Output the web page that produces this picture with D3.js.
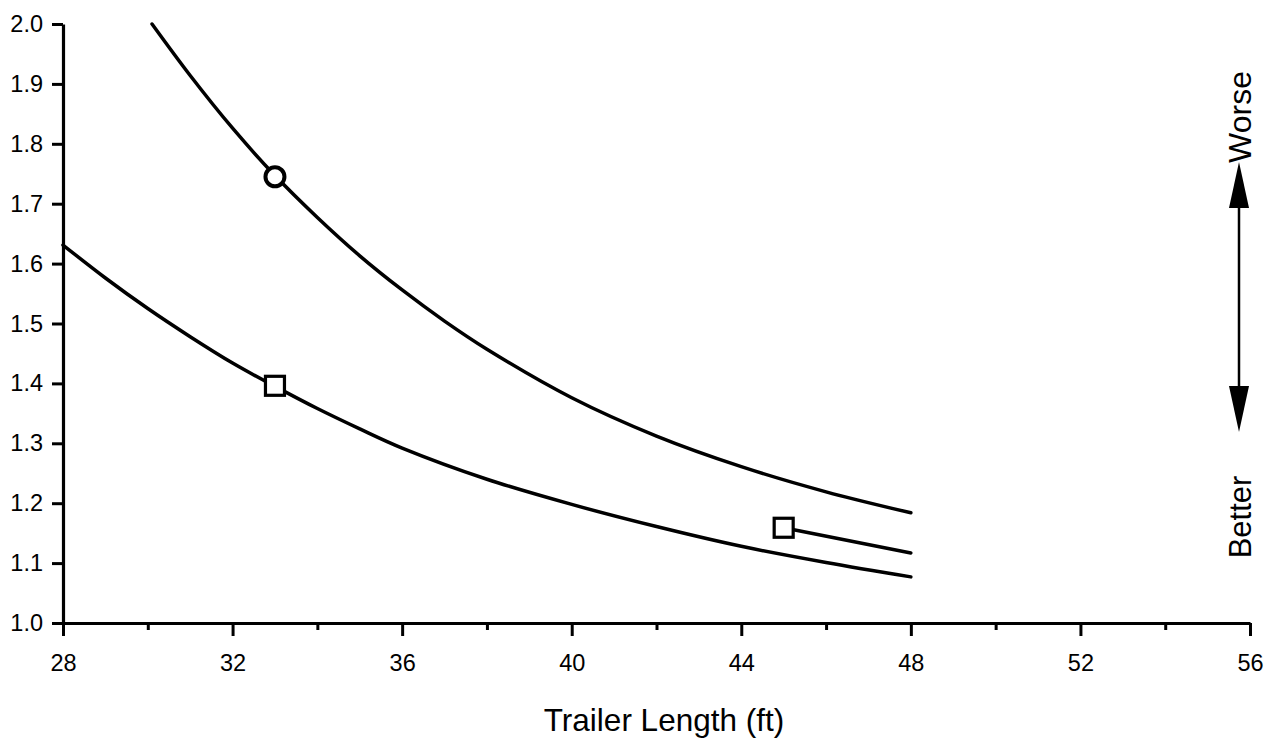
<!DOCTYPE html>
<html>
<head>
<meta charset="utf-8">
<script src="https://cdn.jsdelivr.net/npm/d3@7"></script>
<style>
  html, body { margin: 0; padding: 0; background: #fff; }
  svg { display: block; }
  text { font-family: Helvetica, Arial, "Liberation Sans", sans-serif; fill: #000; }
</style>
</head>
<body>
<svg id="chart" width="1274" height="745"></svg>
<script>
// ---- data ----
const xMajorTicks = [28, 32, 36, 40, 44, 48, 52, 56];
const xMinorTicks = [30, 34, 38, 42, 46, 50, 54];
const yTicks = [1.0, 1.1, 1.2, 1.3, 1.4, 1.5, 1.6, 1.7, 1.8, 1.9, 2.0];

const upperX = [30.1, 31, 32, 33, 34, 35, 36, 37, 38, 40, 42, 44, 46, 48];
const upperY = [2.000, 1.914, 1.826, 1.747, 1.677, 1.613, 1.556, 1.504, 1.457, 1.376, 1.312, 1.261, 1.219, 1.184];

const lowerX = [28, 29, 30, 31, 32, 33, 34, 35, 36, 38, 40, 42, 44, 46, 48];
const lowerY = [1.631, 1.576, 1.525, 1.478, 1.434, 1.395, 1.358, 1.324, 1.292, 1.240, 1.198, 1.161, 1.128, 1.101, 1.077];

const shortX = [45, 48];
const shortY = [1.159, 1.117];

const circleMarker = { x: 33, y: 1.745 };
const squareMarkers = [ { x: 33, y: 1.396 }, { x: 45, y: 1.159 } ];

const xTitle = "Trailer Length (ft)";
const worseLabel = "Worse";
const betterLabel = "Better";

// ---- drawing ----
const svg = d3.select("#chart");
const x = d3.scaleLinear().domain([28, 56]).range([63, 1250]);
const y = d3.scaleLinear().domain([1, 2]).range([623, 24]);

const line = d3.line().x(d => x(d[0])).y(d => y(d[1])).curve(d3.curveCatmullRom.alpha(0.5));
const curveStyle = sel => sel.attr("fill", "none").attr("stroke", "#000")
  .attr("stroke-width", 3.5).attr("stroke-linecap", "round").attr("stroke-linejoin", "round");

svg.append("path").datum(d3.zip(upperX, upperY)).attr("d", line).call(curveStyle);
svg.append("path").datum(d3.zip(lowerX, lowerY)).attr("d", line).call(curveStyle);
svg.append("path").datum(d3.zip(shortX, shortY)).attr("d", line).call(curveStyle);

// markers
svg.append("circle").attr("cx", x(circleMarker.x)).attr("cy", y(circleMarker.y)).attr("r", 9.5)
  .attr("fill", "#fff").attr("stroke", "#000").attr("stroke-width", 4);
svg.selectAll("rect.sq").data(squareMarkers).enter().append("rect").attr("class", "sq")
  .attr("x", d => x(d.x) - 9.5).attr("y", d => y(d.y) - 9.5).attr("width", 19).attr("height", 19)
  .attr("fill", "#fff").attr("stroke", "#000").attr("stroke-width", 3.2);

// axes
const yAxis = d3.axisLeft(y).tickValues(yTicks).tickFormat(d3.format(".1f"))
  .tickSize(11).tickSizeOuter(0).tickPadding(9);
const gy = svg.append("g").attr("transform", `translate(${x(28)},0)`).call(yAxis);

const xAxis = d3.axisBottom(x).tickValues(xMajorTicks).tickFormat(d3.format("d"))
  .tickSize(13).tickSizeOuter(0).tickPadding(18);
const gx = svg.append("g").attr("transform", `translate(0,${y(1)})`).call(xAxis);

const xMinor = d3.axisBottom(x).tickValues(xMinorTicks).tickFormat("").tickSize(7).tickSizeOuter(0);
const gxm = svg.append("g").attr("transform", `translate(0,${y(1)})`).call(xMinor);
gxm.select(".domain").remove();

[gy, gx, gxm].forEach(g => {
  g.selectAll(".domain").attr("stroke", "#000").attr("stroke-width", 3.2);
  g.selectAll(".tick line").attr("stroke", "#000").attr("stroke-width", 3);
  g.selectAll(".tick text").attr("font-size", 23.5).attr("fill", "#000")
    .style("font-family", "Helvetica, Arial, 'Liberation Sans', sans-serif");
});

// axis title
svg.append("text").attr("x", 664).attr("y", 731).attr("text-anchor", "middle")
  .attr("font-size", 31.5).text(xTitle);

// Worse / Better indicator
const ax = 1239;
svg.append("text").attr("transform", `translate(1251, 117) rotate(-90)`)
  .attr("text-anchor", "middle").attr("font-size", 32).text(worseLabel);
svg.append("text").attr("transform", `translate(1251, 517) rotate(-90)`)
  .attr("text-anchor", "middle").attr("font-size", 31).text(betterLabel);
svg.append("line").attr("x1", ax).attr("x2", ax).attr("y1", 200).attr("y2", 392)
  .attr("stroke", "#000").attr("stroke-width", 2.5);
svg.append("path").attr("d", `M${ax},162 L${ax - 10},208 L${ax + 10},208 Z`).attr("fill", "#000");
svg.append("path").attr("d", `M${ax},432 L${ax - 10},386 L${ax + 10},386 Z`).attr("fill", "#000");
</script>
</body>
</html>
